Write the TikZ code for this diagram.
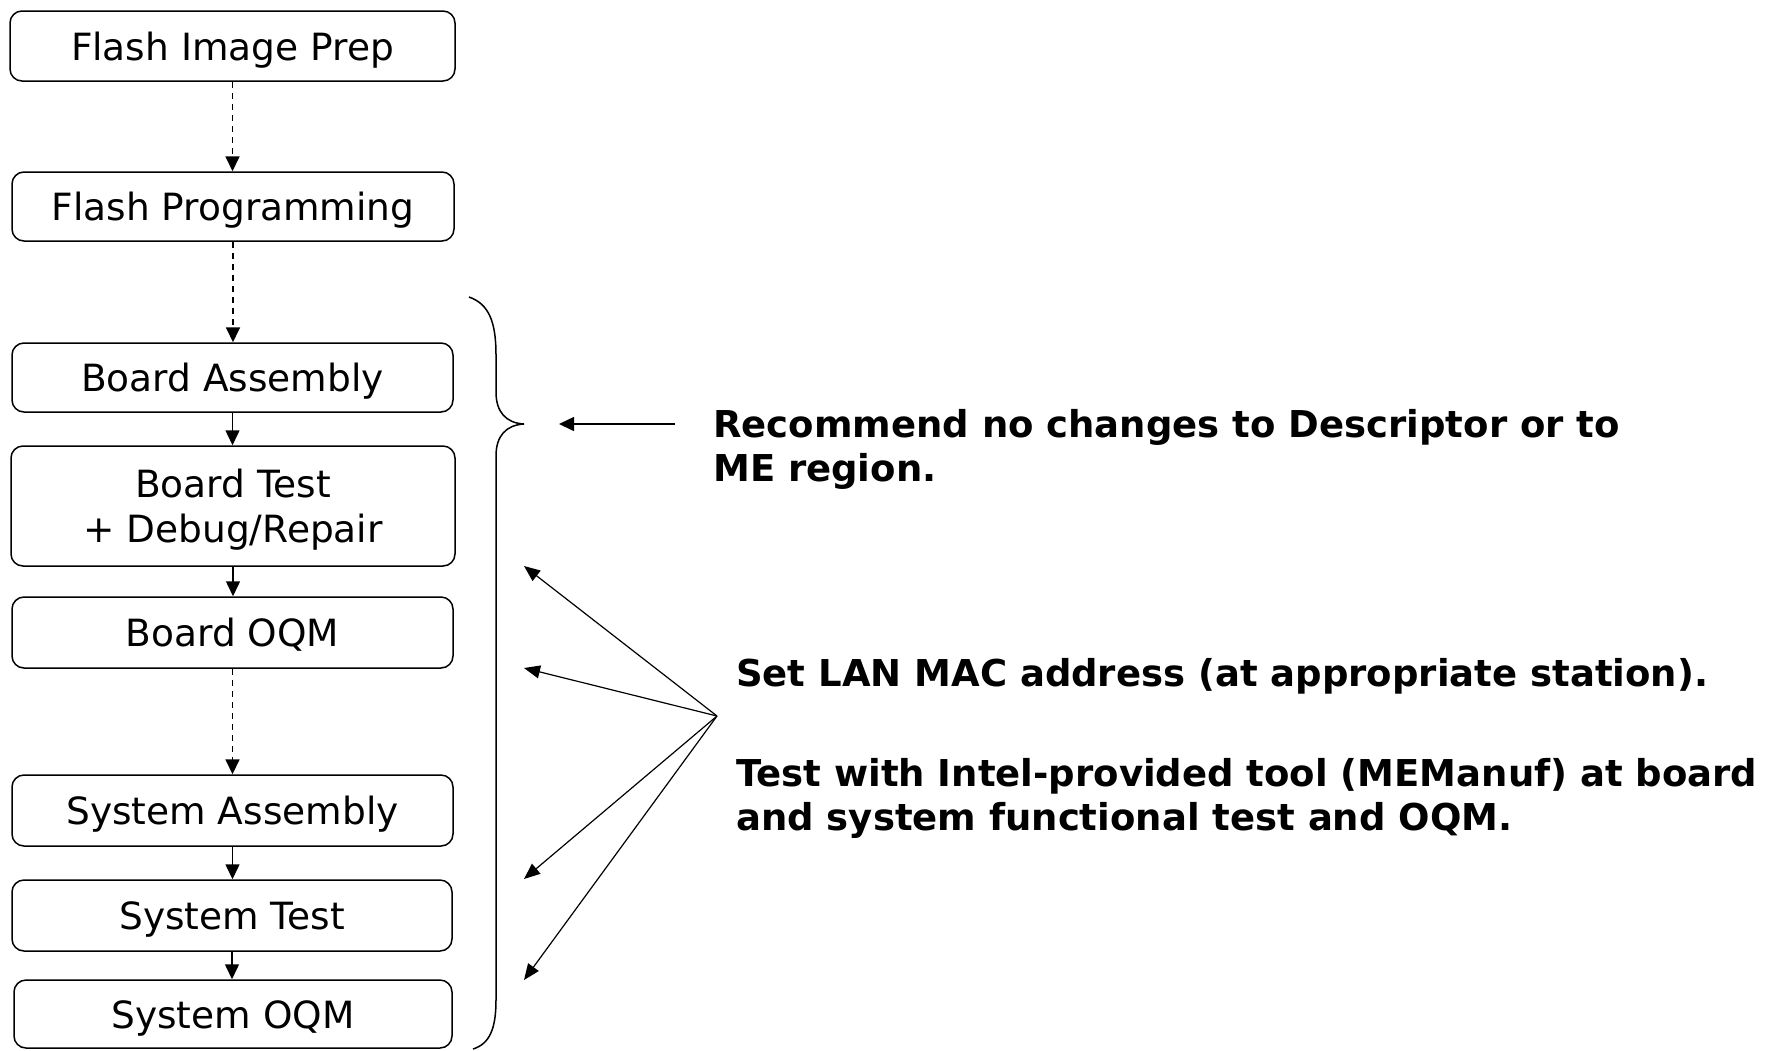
\documentclass[tikz,border=0pt]{standalone}
\usepackage{fontspec}
\setmainfont{DejaVu Sans}
\usetikzlibrary{arrows.meta}

\tikzset{
  stage/.style={draw, line width=1.5pt, rounded corners=12pt, align=center,
    inner sep=0pt, text height=28pt, text depth=0pt,
    font=\fontsize{37.5}{45}\selectfont},
  flow/.style={-{Triangle[length=15pt,width=14pt]}, line width=1.5pt},
  later/.style={flow, dash pattern=on 6.5pt off 4.5pt, line width=1.8pt},
  note/.style={anchor=base west, align=left, inner sep=0pt,
    font=\fontsize{37}{44}\selectfont\bfseries},
  pointer/.style={-{Triangle[length=16pt,width=13pt]}, line width=1.2pt},
  bracket/.style={line width=1.5pt}
}

\begin{document}
\begin{tikzpicture}[x=1pt,y=-1pt]
\useasboundingbox (0,0) rectangle (1779,1050);

% production flow
\node[stage, minimum width=445pt, minimum height=70pt] (prep)  at (232.5,46)    {Flash Image Prep};
\node[stage, minimum width=442pt, minimum height=69pt] (prog)  at (233,206.5)   {Flash Programming};
\node[stage, minimum width=441pt, minimum height=69pt] (bassy) at (232.5,377.5) {Board Assembly};
\node[stage, minimum width=444pt, minimum height=120pt, text height=73pt] (btest) at (233,506) {Board Test\\+ Debug/Repair};
\node[stage, minimum width=441pt, minimum height=71pt] (boqm)  at (232.5,632.5) {Board OQM};
\node[stage, minimum width=441pt, minimum height=71pt] (sassy) at (232.5,810.5) {System Assembly};
\node[stage, minimum width=440pt, minimum height=71pt] (stest) at (232,915.5)   {System Test};
\node[stage, minimum width=438pt, minimum height=68pt] (soqm)  at (233,1014)    {System OQM};

\draw[later] (prep.south)  -- (prep.south |- prog.north);
\draw[later] (prog.south)  -- (prog.south |- bassy.north);
\draw[flow]  (bassy.south) -- (bassy.south |- btest.north);
\draw[flow]  (btest.south) -- (btest.south |- boqm.north);
\draw[later] (boqm.south)  -- (boqm.south |- sassy.north);
\draw[flow]  (sassy.south) -- (sassy.south |- stest.north);
\draw[flow]  (stest.south) -- (stest.south |- soqm.north);

% brace grouping the assembly and test stages
\coordinate (tip) at (524,424);
\draw[bracket] (469,297) .. controls (489,304) and (496,322) .. (496,355)
  -- (496,392) .. controls (496,412) and (506,423) .. (tip)
  .. controls (506,425) and (496,436) .. (496,456)
  -- (496,1000) .. controls (496,1030) and (489,1044) .. (473,1049);

% notes (multi-line notes are anchored at the baseline of their last line)
\node[note] (keep) at (713,481) {Recommend no changes to Descriptor or to\\ME region.};
\node[note] (mac)  at (736,686) {Set LAN MAC address (at appropriate station).};
\node[note] (tool) at (736,830) {Test with Intel-provided tool (MEManuf) at board\\and system functional test and OQM.};

\coordinate (keepfrom) at (675,424);
\coordinate (keepto) at (559,424);
\draw[flow] (keepfrom) -- (keepto);

\coordinate (hub) at (717,716);
\coordinate (t1) at (524,566);
\coordinate (t2) at (524,668);
\coordinate (t3) at (524,879);
\coordinate (t4) at (524,980);
\foreach \t in {t1,t2,t3,t4}
  \draw[pointer] (hub) -- (\t);
\end{tikzpicture}
\end{document}
